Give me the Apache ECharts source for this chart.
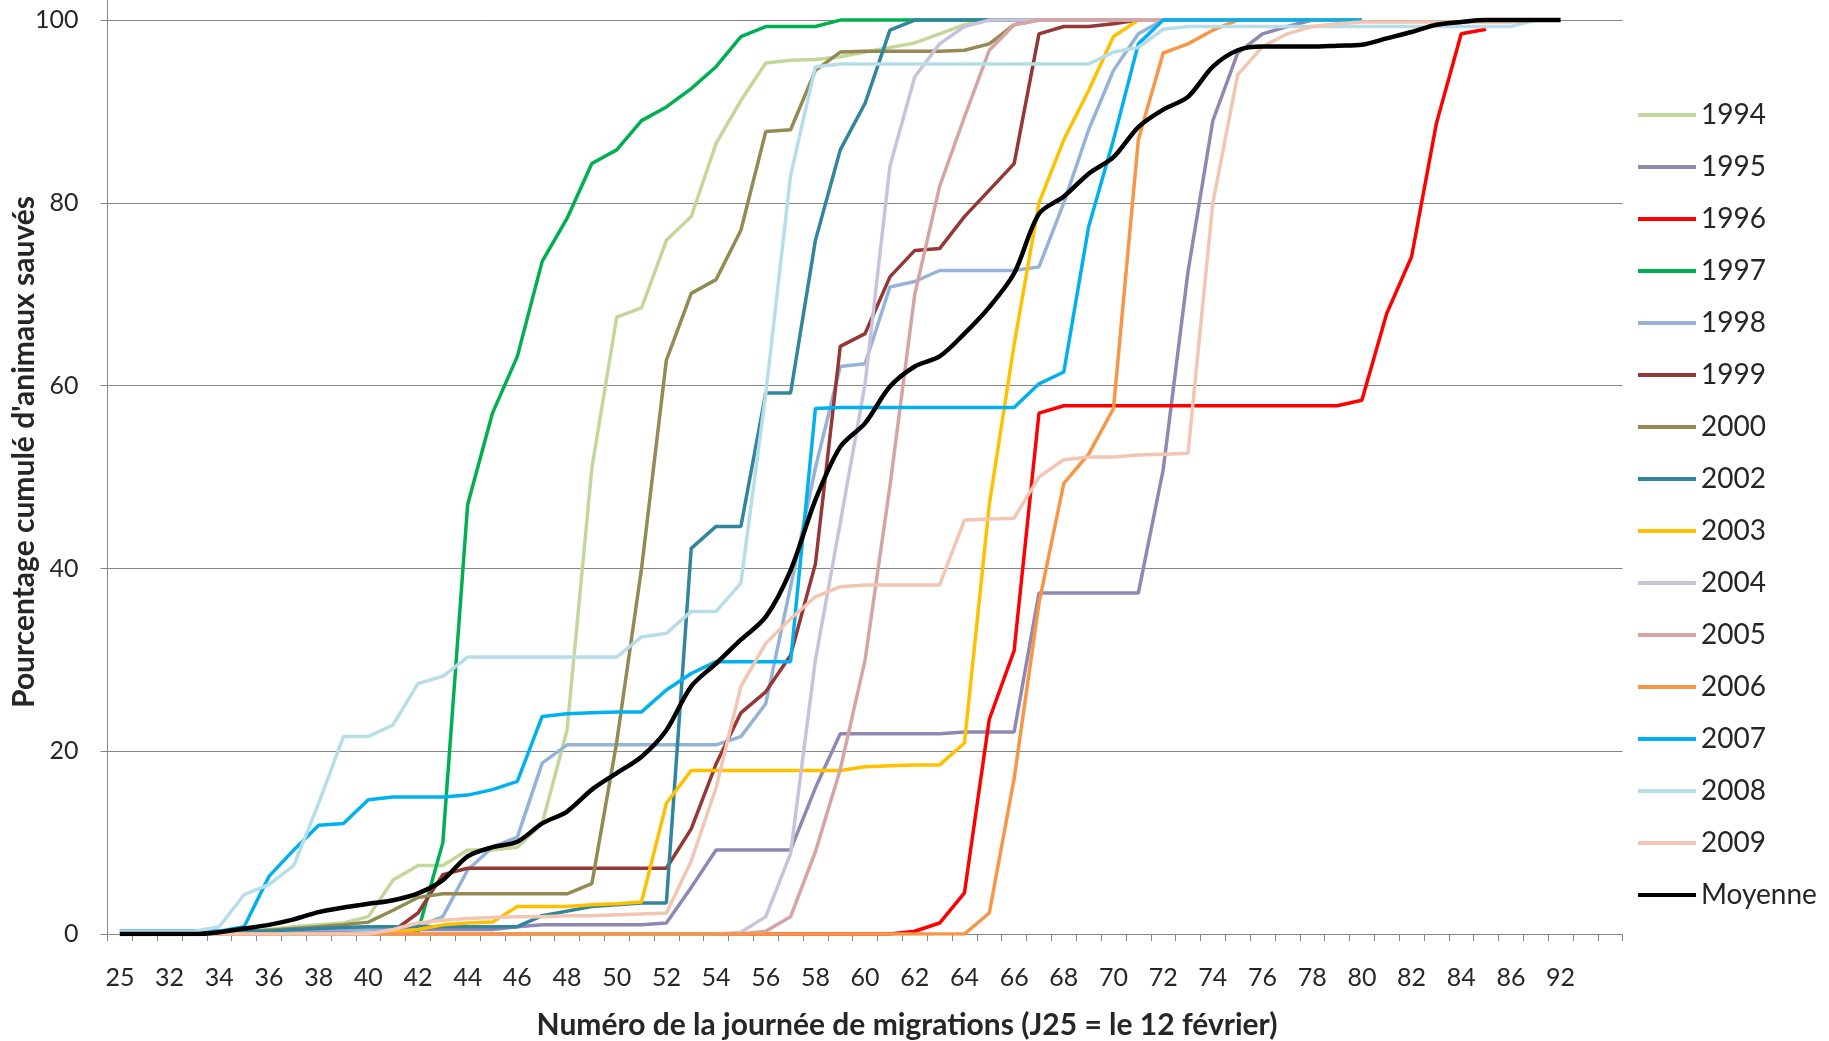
<!DOCTYPE html>
<html><head><meta charset="utf-8">
<script src="https://cdn.jsdelivr.net/npm/echarts@6/dist/echarts.min.js"></script>
<style>html,body{margin:0;padding:0;background:#fff}#c{width:1829px;height:1041px}</style>
</head><body><div id="c"></div>
<script>
// Categories (migration day numbers); unlabeled slots are blank strings
const days = ['25','',
  '32','33','34','35','36','37','38','39','40','41','42','43','44','45','46','47','48','49',
  '50','51','52','53','54','55','56','57','58','59','60','61','62','63','64','65','66','67','68','69',
  '70','71','72','73','74','75','76','77','78','79','80','81','82','83','84','85','86',
  ' ','92','  ','   '];
const yTicks = [0,20,40,60,80,100];

// rows: [25,31,32..39] [40..49] [50..59] [60..69] [70..79] [80..86, x, 92, -, -]
const s1994 = [0,0,0,0,0,0.3,0.5,0.8,1,1.2,
  1.9,5.9,7.5,7.5,9.2,9.2,9.5,12.1,22.3,51,
  67.5,68.5,75.9,78.5,86.5,91.2,95.3,95.6,95.7,96,
  96.5,97,97.5,98.5,99.5,100,100,100,100,100,
  100,100,100,100,100,100,100,100,100,100,
  100,null,null,null,null,null,null,null,null,null,null];
const s1995 = [0.3,0.3,0.3,0.3,0.3,0.3,0.3,0.3,0.4,0.4,
  0.5,0.5,0.5,0.5,0.5,0.5,0.8,1.0,1.0,1.0,
  1.0,1.0,1.2,5.1,9.2,9.2,9.2,9.2,16,21.9,
  21.9,21.9,21.9,21.9,22.1,22.1,22.1,37.3,37.3,37.3,
  37.3,37.3,50.8,72.5,89,96.4,98.5,99.3,100,100,
  100,null,null,null,null,null,null,null,null,null,null];
const s1996 = [0,0,0,0,0,0,0,0,0,0,
  0,0,0,0,0,0,0,0,0,0,
  0,0,0,0,0,0,0,0,0,0,
  0,0,0.3,1.2,4.5,23.5,31,57,57.8,57.8,
  57.8,57.8,57.8,57.8,57.8,57.8,57.8,57.8,57.8,57.8,
  58.4,67.9,74.1,88.7,98.5,99,null,null,null,null,null];
const s1997 = [0,0,0,0,0,0,0,0,0,0,
  0,0,0.3,10,47,57,63.2,73.6,78.3,84.3,
  85.8,89,90.5,92.5,94.9,98.2,99.3,99.3,99.3,100,
  100,100,100,100,100,100,100,100,100,100,
  100,100,100,100,100,100,100,100,100,100,
  100,null,null,null,null,null,null,null,null,null,null];
const s1998 = [0.3,0.3,0.3,0.3,0.3,0.3,0.4,0.5,0.5,0.5,
  0.5,0.6,0.8,1.9,7.0,9.5,10.6,18.7,20.7,20.7,
  20.7,20.7,20.7,20.7,20.7,21.6,25.2,38,51,62.1,
  62.4,70.8,71.4,72.6,72.6,72.6,72.6,73.0,80,88,
  94.5,98.5,100,100,100,100,100,100,100,100,
  100,null,null,null,null,null,null,null,null,null,null];
const s1999 = [0,0,0,0,0,0,0,0,0,0,
  0,0.3,2.3,6.5,7.2,7.2,7.2,7.2,7.2,7.2,
  7.2,7.2,7.2,11.5,18.6,24.2,26.5,30.5,40.5,64.3,
  65.7,71.9,74.8,75.0,78.5,81.4,84.3,98.5,99.3,99.3,
  99.6,100,100,100,100,100,100,100,100,100,
  100,null,null,null,null,null,null,null,null,null,null];
const s2000 = [0,0,0,0,0,0.2,0.4,0.6,0.8,1.0,
  1.3,2.6,4.0,4.4,4.4,4.4,4.4,4.4,4.4,5.5,
  21,40,62.8,70.1,71.6,77,87.8,88,94.5,96.5,
  96.6,96.6,96.6,96.6,96.7,97.4,99.5,100,100,100,
  100,100,100,100,100,100,100,100,100,100,
  100,null,null,null,null,null,null,null,null,null,null];
const s2002 = [0.3,0.3,0.3,0.3,0.3,0.3,0.3,0.5,0.6,0.7,
  0.8,0.8,0.8,0.8,0.8,0.8,0.8,2.0,2.5,3.0,
  3.2,3.4,3.4,42.2,44.6,44.6,59.2,59.2,75.9,85.8,
  90.9,98.9,100,100,100,100,100,100,100,100,
  100,100,100,100,100,100,100,100,100,100,
  100,null,null,null,null,null,null,null,null,null,null];
const s2003 = [0,0,0,0,0,0,0,0,0,0,
  0,0.2,0.5,1.0,1.2,1.3,3.0,3.0,3.0,3.2,
  3.3,3.5,14.3,17.9,17.9,17.9,17.9,17.9,17.9,17.9,
  18.3,18.4,18.5,18.5,20.9,47,64.5,80,86.9,92.3,
  98.2,100,100,100,100,100,100,100,100,100,
  100,null,null,null,null,null,null,null,null,null,null];
const s2004 = [0,0,0,0,0,0,0,0,0,0,
  0,0,0,0,0,0,0,0,0,0,
  0,0,0,0,0,0.2,1.9,8.8,30,45,
  60.2,84,93.8,97.4,99.3,100,100,100,100,100,
  100,100,100,100,100,100,100,100,100,100,
  100,null,null,null,null,null,null,null,null,null,null];
const s2005 = [0,0,0,0,0,0,0,0,0,0,
  0,0,0,0,0,0,0,0,0,0,
  0,0,0,0,0,0,0.3,1.9,9,18,
  30,49,70,81.8,89.4,96.7,99.5,100,100,100,
  100,100,100,100,100,100,100,100,100,100,
  100,null,null,null,null,null,null,null,null,null,null];
const s2006 = [0,0,0,0,0,0,0,0,0,0,
  0,0,0,0,0,0,0,0,0,0,
  0,0,0,0,0,0,0,0,0,0,
  0,0,0,0,0,2.3,17,36.2,49.3,52.5,
  57.5,86.9,96.4,97.4,98.9,100,100,100,100,100,
  100,null,null,null,null,null,null,null,null,null,null];
const s2007 = [0.3,0.3,0.3,0.3,0.3,0.8,6.3,9.2,11.9,12.1,
  14.7,15.0,15.0,15.0,15.2,15.8,16.7,23.8,24.1,24.2,
  24.3,24.3,26.7,28.5,29.8,29.8,29.8,29.8,57.5,57.6,
  57.6,57.6,57.6,57.6,57.6,57.6,57.6,60.2,61.5,77.4,
  86.9,97.4,100,100,100,100,100,100,100,100,
  100,null,null,null,null,null,null,null,null,null,null];
const s2008 = [0.3,0.3,0.3,0.3,0.8,4.3,5.4,7.5,14.3,21.6,
  21.6,22.9,27.4,28.2,30.3,30.3,30.3,30.3,30.3,30.3,
  30.3,32.5,32.9,35.3,35.3,38.4,59.1,83,94.9,95.2,
  95.2,95.2,95.2,95.2,95.2,95.2,95.2,95.2,95.2,95.2,
  96.5,97,99,99.3,99.3,99.3,99.3,99.3,99.3,99.3,
  99.3,99.3,99.3,99.3,99.3,99.3,99.3,100,null,null,null];
const s2009 = [0,0,0,0,0,0,0,0,0,0,
  0,0.5,1.2,1.5,1.7,1.8,1.9,1.9,2.0,2.0,
  2.1,2.2,2.3,8,16,27.1,31.8,34.5,36.9,38.0,
  38.2,38.2,38.2,38.2,45.3,45.4,45.5,50,51.9,52.2,
  52.2,52.4,52.5,52.6,80,94,97.1,98.5,99.3,99.6,
  99.8,99.8,99.8,99.8,99.8,99.8,99.8,100,null,null,null];
const sMoyenne = [0,0,0,0,0.2,0.6,1.0,1.6,2.4,2.9,
  3.3,3.7,4.45,5.9,8.5,9.5,10.1,12.1,13.4,15.8,
  17.6,19.4,22.3,27.1,29.6,32.2,34.7,39.8,47.5,53.3,
  55.9,59.9,62.1,63.2,65.7,68.6,72.3,78.8,80.7,83.2,
  85.0,88.3,90.2,91.6,94.9,96.7,97.1,97.1,97.1,97.2,
  97.3,98.0,98.7,99.5,99.8,100,100,100,100,null,null];

const seriesNames = ['1994','1995','1996','1997','1998','1999','2000','2002','2003','2004','2005','2006','2007','2008','2009','Moyenne'];
const seriesValues = [s1994,s1995,s1996,s1997,s1998,s1999,s2000,s2002,s2003,s2004,s2005,s2006,s2007,s2008,s2009,sMoyenne];
const seriesColors = ['#C4D79B','#9088B3','#FF0000','#00B050','#95B3D7','#953735','#948A54','#31859C','#FFC000','#CCC1DA','#D4A5A4','#F79646','#00B0F0','#B7DEE8','#F2C6B2','#000000'];

const chart = echarts.init(document.getElementById('c'), null, {renderer:'canvas'});
const FONT = 'Lato, "Open Sans", sans-serif';
chart.setOption({
  animation: false,
  backgroundColor: '#ffffff',
  grid: {left: 107.5, right: 206.3, top: 0, bottom: 107, outerBoundsMode: 'none'},
  xAxis: {
    type: 'category', data: days, boundaryGap: true,
    axisLine: {lineStyle: {color: '#868686', width: 1}},
    axisTick: {show: true, interval: 0, length: 7, lineStyle: {color: '#868686'}},
    axisLabel: {interval: 1, margin: 31, fontSize: 25, fontFamily: FONT, color: '#262626'},
    splitLine: {show: false}
  },
  yAxis: {
    type: 'value', min: 0, max: 102.2, interval: 20,
    axisLine: {show: true, lineStyle: {color: '#868686', width: 1}},
    axisTick: {show: true, length: 7, lineStyle: {color: '#868686'}},
    axisLabel: {margin: 29, fontSize: 25, fontFamily: FONT, color: '#262626', showMaxLabel: false,
      formatter: v => (yTicks.indexOf(v) >= 0 ? String(v) : '')},
    splitLine: {show: true, showMaxLine: false, lineStyle: {color: '#868686', width: 1}}
  },
  legend: {
    orient: 'vertical', left: 1633, top: 96,
    icon: 'rect', itemWidth: 58, itemHeight: 4, itemGap: 24,
    textStyle: {fontSize: 28, fontFamily: FONT, color: '#262626', lineHeight: 25},
    data: seriesNames
  },
  graphic: [
    {type: 'text', x: 24, y: 452, rotation: Math.PI / 2,
     style: {text: "Pourcentage cumulé d'animaux sauvés", font: 'bold 30px ' + FONT, fill: '#262626', align: 'center', verticalAlign: 'middle'}},
    {type: 'text', x: 907, y: 1025,
     style: {text: 'Numéro de la journée de migrations (J25 = le 12 février)', font: 'bold 30px ' + FONT, fill: '#262626', align: 'center', verticalAlign: 'middle'}}
  ],
  series: seriesNames.map((n, i) => ({
    name: n, type: 'line', data: seriesValues[i],
    symbol: 'none', showSymbol: false,
    smooth: n === 'Moyenne' ? 0.3 : false,
    color: seriesColors[i],
    lineStyle: {color: seriesColors[i], width: n === 'Moyenne' ? 4.5 : 3.5},
    z: 2 + i
  }))
});
</script></body></html>
